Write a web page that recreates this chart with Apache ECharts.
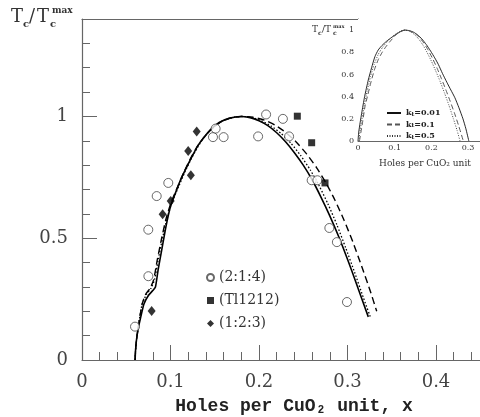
<!DOCTYPE html>
<html>
<head>
<meta charset="utf-8">
<script src="https://cdn.jsdelivr.net/npm/echarts@6/dist/echarts.min.js"></script>
<style>html,body{margin:0;padding:0;background:#fff}#c{width:480px;height:417px}</style>
</head>
<body>
<div id="c"></div>
<script>
// ---------- data ----------
var xTickLabels = ['0', '0.1', '0.2', '0.3', '0.4'];
var yTickLabels = ['0', '0.5', '1'];
var insetXTickLabels = ['0', '0.1', '0.2', '0.3'];
var insetYTickLabels = ['0', '0.2', '0.4', '0.6', '0.8', '1'];

var mainSolid = [[0.060,0.00],[0.0605,0.04],[0.0615,0.08],[0.063,0.12],[0.066,0.17],[0.070,0.23],[0.075,0.265],[0.080,0.285],[0.083,0.30],[0.086,0.37],[0.090,0.45],[0.095,0.55],[0.100,0.63],[0.106,0.69],[0.112,0.745],[0.118,0.79],[0.125,0.84],[0.131,0.88],[0.137,0.91],[0.145,0.945],[0.155,0.975],[0.167,0.993],[0.179,1.000],[0.190,0.995],[0.200,0.982],[0.210,0.962],[0.220,0.933],[0.230,0.896],[0.240,0.851],[0.250,0.80],[0.260,0.74],[0.270,0.669],[0.280,0.592],[0.290,0.507],[0.300,0.414],[0.310,0.314],[0.3235,0.177]];
var mainDotted = [[0.060,0.00],[0.0605,0.04],[0.0615,0.08],[0.063,0.12],[0.065,0.17],[0.068,0.23],[0.073,0.27],[0.078,0.295],[0.082,0.33],[0.086,0.41],[0.091,0.50],[0.096,0.58],[0.102,0.65],[0.109,0.71],[0.116,0.77],[0.124,0.83],[0.131,0.875],[0.138,0.915],[0.147,0.95],[0.157,0.978],[0.168,0.994],[0.180,1.000],[0.192,0.996],[0.203,0.982],[0.214,0.96],[0.225,0.93],[0.236,0.89],[0.247,0.84],[0.258,0.78],[0.268,0.715],[0.278,0.64],[0.288,0.555],[0.298,0.46],[0.308,0.36],[0.318,0.255],[0.326,0.175]];
var mainDashed = [[0.060,0.00],[0.0605,0.04],[0.0615,0.08],[0.063,0.12],[0.065,0.17],[0.068,0.23],[0.072,0.27],[0.077,0.295],[0.081,0.33],[0.085,0.41],[0.090,0.50],[0.095,0.58],[0.101,0.65],[0.108,0.71],[0.115,0.77],[0.123,0.83],[0.130,0.875],[0.138,0.915],[0.147,0.95],[0.157,0.978],[0.168,0.994],[0.180,1.000],[0.193,0.997],[0.206,0.985],[0.218,0.965],[0.230,0.935],[0.242,0.895],[0.254,0.845],[0.265,0.79],[0.276,0.725],[0.286,0.655],[0.296,0.575],[0.306,0.485],[0.316,0.385],[0.326,0.28],[0.333,0.20]];

var pts214 = [[0.0599,0.137],[0.075,0.344],[0.0749,0.535],[0.0844,0.673],[0.0975,0.727],[0.148,0.915],[0.151,0.95],[0.160,0.915],[0.199,0.918],[0.208,1.008],[0.227,0.99],[0.234,0.918],[0.2595,0.738],[0.266,0.738],[0.2795,0.542],[0.288,0.484],[0.2994,0.238]];
var ptsTl1212 = [[0.2433,1.001],[0.2595,0.892],[0.2746,0.727]];
var pts123 = [[0.0787,0.201],[0.0911,0.598],[0.1002,0.653],[0.120,0.858],[0.123,0.758],[0.1296,0.9385]];
var seriesNames = ['(2:1:4)', '(Tl1212)', '(1:2:3)'];

var insetSolid = [[0,0],[0.002,0.08],[0.006,0.17],[0.010,0.25],[0.018,0.40],[0.028,0.55],[0.037,0.66],[0.046,0.76],[0.055,0.82],[0.065,0.86],[0.078,0.90],[0.092,0.935],[0.105,0.965],[0.118,0.99],[0.128,1.0],[0.140,0.995],[0.152,0.98],[0.163,0.955],[0.174,0.92],[0.186,0.87],[0.198,0.81],[0.209,0.75],[0.219,0.69],[0.230,0.61],[0.242,0.53],[0.253,0.46],[0.264,0.39],[0.275,0.30],[0.286,0.20],[0.294,0.11],[0.302,0.0]];
var insetDashed = [[0.004,0],[0.008,0.08],[0.013,0.18],[0.019,0.31],[0.027,0.42],[0.036,0.54],[0.046,0.655],[0.056,0.74],[0.066,0.80],[0.076,0.85],[0.088,0.9],[0.100,0.945],[0.112,0.98],[0.124,0.998],[0.132,1.0],[0.143,0.99],[0.155,0.97],[0.167,0.935],[0.179,0.885],[0.191,0.82],[0.203,0.745],[0.215,0.66],[0.227,0.565],[0.239,0.465],[0.251,0.36],[0.263,0.25],[0.275,0.13],[0.287,0.0]];
var insetDotted = [[0.002,0],[0.006,0.1],[0.011,0.2],[0.017,0.32],[0.025,0.45],[0.034,0.58],[0.044,0.69],[0.055,0.78],[0.066,0.84],[0.078,0.89],[0.090,0.93],[0.103,0.965],[0.116,0.99],[0.128,1.0],[0.140,0.99],[0.152,0.965],[0.164,0.925],[0.176,0.87],[0.188,0.80],[0.200,0.72],[0.212,0.63],[0.224,0.535],[0.236,0.43],[0.248,0.32],[0.260,0.2],[0.270,0.095],[0.278,0]];
var insetNames = ['k_t=0.01', 'k_t=0.1', 'k_t=0.5'];

// ---------- chart ----------
var chart = echarts.init(document.getElementById('c'), null, {renderer: 'canvas'});
var AX = '#666';
var SERIF = 'DejaVu Serif';
function fmt(list) { return function (v) { var s = String(+v.toFixed(2)); return list.indexOf(s) >= 0 ? s : ''; }; }

var mainGrid = {left: 82, top: 19, width: 442.5, height: 341, containLabel: false, outerBoundsMode: 'none'};
var insetGrid = {left: 358, top: 19, width: 128.45, height: 122, containLabel: false, outerBoundsMode: 'none'};

var option = {
  animation: false,
  backgroundColor: '#fff',
  grid: [
    Object.assign({}, mainGrid),
    Object.assign({}, mainGrid),
    Object.assign({show: true, backgroundColor: '#fff', borderWidth: 0, z: 5}, insetGrid),
    Object.assign({z: 5}, insetGrid)
  ],
  xAxis: [
    {gridIndex: 0, type: 'value', min: 0, max: 0.5, interval: 0.02,
     axisLine: {show: true, onZero: false, lineStyle: {color: AX, width: 1.2}},
     axisTick: {show: true, inside: true, length: 8, lineStyle: {color: AX}},
     axisLabel: {show: false}, splitLine: {show: false}},
    {gridIndex: 0, type: 'value', position: 'top', min: 0, max: 0.5,
     axisLine: {show: true, onZero: false, lineStyle: {color: AX, width: 1.2}},
     axisTick: {show: false}, axisLabel: {show: false}, splitLine: {show: false}},
    {gridIndex: 1, type: 'value', position: 'bottom', min: 0, max: 0.5, interval: 0.1,
     axisLine: {show: false, onZero: false},
     axisTick: {show: true, inside: true, length: 15, lineStyle: {color: AX}},
     axisLabel: {show: true, margin: 13, fontFamily: SERIF, fontSize: 18, color: '#444', formatter: fmt(xTickLabels)},
     splitLine: {show: false}},
    {gridIndex: 2, type: 'value', min: 0, max: 0.35, interval: 0.02,
     axisLine: {show: true, onZero: false, lineStyle: {color: AX, width: 1}},
     axisTick: {show: true, inside: true, length: 3, lineStyle: {color: AX}},
     axisLabel: {show: false}, splitLine: {show: false}},
    {gridIndex: 3, type: 'value', min: 0, max: 0.35, interval: 0.1,
     axisLine: {show: false, onZero: false},
     axisTick: {show: true, inside: true, length: 6, lineStyle: {color: AX}},
     axisLabel: {show: true, margin: 3, fontFamily: SERIF, fontSize: 8, color: '#333', formatter: fmt(insetXTickLabels)},
     splitLine: {show: false}}
  ],
  yAxis: [
    {gridIndex: 0, type: 'value', min: 0, max: 1.4, interval: 0.1,
     axisLine: {show: true, onZero: false, lineStyle: {color: AX, width: 1.2}},
     axisTick: {show: true, inside: true, length: 8, lineStyle: {color: AX}},
     axisLabel: {show: false}, splitLine: {show: false}},
    {gridIndex: 1, type: 'value', min: 0, max: 1.4, interval: 0.5,
     axisLine: {show: false, onZero: false},
     axisTick: {show: true, inside: true, length: 15, lineStyle: {color: AX}},
     axisLabel: {show: true, margin: 14, showMaxLabel: false, fontFamily: SERIF, fontSize: 18, color: '#444', formatter: fmt(yTickLabels)},
     splitLine: {show: false}},
    {gridIndex: 2, type: 'value', min: 0, max: 1.1, interval: 0.05,
     axisLine: {show: true, onZero: false, lineStyle: {color: AX, width: 1}},
     axisTick: {show: true, inside: true, length: 3, lineStyle: {color: AX}},
     axisLabel: {show: false}, splitLine: {show: false}},
    {gridIndex: 3, type: 'value', min: 0, max: 1.1, interval: 0.2,
     axisLine: {show: false, onZero: false},
     axisTick: {show: true, inside: true, length: 6, lineStyle: {color: AX}},
     axisLabel: {show: true, margin: 4, showMaxLabel: false, fontFamily: SERIF, fontSize: 8, color: '#333', formatter: fmt(insetYTickLabels)},
     splitLine: {show: false}}
  ],
  legend: [
    {data: seriesNames, orient: 'vertical', left: 201, top: 265, itemWidth: 7, itemHeight: 7, itemGap: 8,
     selectedMode: false, textStyle: {fontFamily: SERIF, fontSize: 14, color: '#333', lineHeight: 15}},
    {data: insetNames, orient: 'vertical', left: 381, top: 103, itemWidth: 14, itemHeight: 6, itemGap: 2.5, z: 10,
     selectedMode: false, itemStyle: {opacity: 0},
     formatter: function (n) { var p = n.split('_t'); return 'k{s|t}' + p[1]; },
     textStyle: {fontFamily: SERIF, fontSize: 8, fontWeight: 'bold', color: '#222', lineHeight: 8,
       rich: {s: {fontSize: 6, fontFamily: SERIF, fontWeight: 'bold', color: '#222', verticalAlign: 'bottom', lineHeight: 6, padding: [3, 0, 0, 0]}}}}
  ],
  series: [
    {type: 'line', name: 'main-solid', xAxisIndex: 0, yAxisIndex: 0, data: mainSolid, showSymbol: false, symbol: 'none', smooth: 0.2,
     lineStyle: {color: '#000', width: 1.6, type: 'solid'}, z: 3},
    {type: 'line', name: 'main-dotted', xAxisIndex: 0, yAxisIndex: 0, data: mainDotted, showSymbol: false, symbol: 'none', smooth: 0.2,
     lineStyle: {color: '#000', width: 1.3, type: [1.5, 2]}, z: 3},
    {type: 'line', name: 'main-dashed', xAxisIndex: 0, yAxisIndex: 0, data: mainDashed, showSymbol: false, symbol: 'none', smooth: 0.2,
     lineStyle: {color: '#000', width: 1.4, type: [7, 4]}, z: 3},
    {type: 'scatter', name: seriesNames[0], xAxisIndex: 0, yAxisIndex: 0, data: pts214, symbol: 'circle', symbolSize: 9,
     itemStyle: {color: '#fff', borderColor: '#444', borderWidth: 1}, z: 4},
    {type: 'scatter', name: seriesNames[1], xAxisIndex: 0, yAxisIndex: 0, data: ptsTl1212, symbol: 'rect', symbolSize: 7,
     itemStyle: {color: '#000'}, z: 4},
    {type: 'scatter', name: seriesNames[2], xAxisIndex: 0, yAxisIndex: 0, data: pts123, symbol: 'diamond', symbolSize: [8, 10],
     itemStyle: {color: '#000'}, z: 4},
    {type: 'line', name: insetNames[0], xAxisIndex: 3, yAxisIndex: 2, data: insetSolid, showSymbol: false, symbol: 'none', smooth: 0.2,
     color: '#111', lineStyle: {color: '#111', width: 0.9, type: 'solid'}, z: 6},
    {type: 'line', name: insetNames[1], xAxisIndex: 3, yAxisIndex: 2, data: insetDashed, showSymbol: false, symbol: 'none', smooth: 0.2,
     color: '#555', lineStyle: {color: '#555', width: 1, type: [5, 3]}, z: 6},
    {type: 'line', name: insetNames[2], xAxisIndex: 3, yAxisIndex: 2, data: insetDotted, showSymbol: false, symbol: 'none', smooth: 0.2,
     color: '#333', lineStyle: {color: '#333', width: 0.9, type: [1, 1.5]}, z: 6}
  ],
  graphic: [
    {type: 'text', x: 11, y: 8, style: {text: 'T', font: '18px "DejaVu Serif"', fill: '#333'}},
    {type: 'text', x: 23, y: 19, style: {text: 'c', font: 'bold 10px "DejaVu Serif"', fill: '#333'}},
    {type: 'text', x: 29, y: 8, style: {text: '/', font: '18px "DejaVu Serif"', fill: '#333'}},
    {type: 'text', x: 37, y: 8, style: {text: 'T', font: '18px "DejaVu Serif"', fill: '#333'}},
    {type: 'text', x: 50, y: 19, style: {text: 'c', font: 'bold 10px "DejaVu Serif"', fill: '#333'}},
    {type: 'text', x: 52, y: 6, style: {text: 'max', font: 'bold 9px "DejaVu Serif"', fill: '#333'}},
    {type: 'text', x: 294, y: 397, style: {text: 'Holes per CuO\u2082 unit, x', font: 'bold 18px "Liberation Mono"', fill: '#222', align: 'center', textAlign: 'center'}},
    {type: 'text', x: 312, y: 25, z: 10, style: {text: 'T', font: '9px "DejaVu Serif"', fill: '#333'}},
    {type: 'text', x: 318, y: 30, z: 10, style: {text: 'c', font: 'bold 6px "DejaVu Serif"', fill: '#333'}},
    {type: 'text', x: 322, y: 25, z: 10, style: {text: '/T', font: '9px "DejaVu Serif"', fill: '#333'}},
    {type: 'text', x: 333, y: 30, z: 10, style: {text: 'c', font: 'bold 6px "DejaVu Serif"', fill: '#333'}},
    {type: 'text', x: 333, y: 24, z: 10, style: {text: 'max', font: 'bold 5px "DejaVu Serif"', fill: '#333'}},
    {type: 'text', x: 425, y: 159, z: 10, style: {text: 'Holes per CuO\u2082 unit', font: '9px "DejaVu Serif"', fill: '#333', align: 'center', textAlign: 'center'}}
  ]
};
chart.setOption(option);
</script>
</body>
</html>
